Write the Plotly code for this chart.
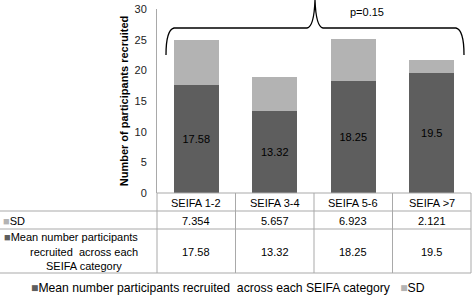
import plotly.graph_objects as go

categories = ["SEIFA 1-2", "SEIFA 3-4", "SEIFA 5-6", "SEIFA >7"]
mean_vals = [17.58, 13.32, 18.25, 19.5]
sd_vals = [7.354, 5.657, 6.923, 2.121]
mean_labels = ["17.58", "13.32", "18.25", "19.5"]
sd_labels = ["7.354", "5.657", "6.923", "2.121"]
mean_name = "Mean number participants recruited  across each SEIFA category"
mean_row_lines = ["Mean number participants", "recruited  across each", "SEIFA category"]
sd_name = "SD"
p_text = "p=0.15"

DARK = "#5e5e5e"
LIGHT = "#b3b3b3"
GRID = "#a9a9a9"
FONT = "Liberation Sans, Arial, sans-serif"

W, H = 473, 295
L, R, T, B = 157, 2, 9, 102
PW, PH = W - L - R, H - T - B


def px(x):
    return (x - L) / PW


def py(y):
    return (H - B - y) / PH


n = len(categories)


def cat_x(i):
    return (i + 0.5) / n


fig = go.Figure()
fig.add_trace(go.Bar(
    x=categories, y=mean_vals, name=mean_name, marker=dict(color=DARK, line=dict(width=0)),
    text=mean_labels, textposition="inside", insidetextanchor="middle",
    textfont=dict(color="black", size=11, family=FONT), textangle=0,
))
fig.add_trace(go.Bar(
    x=categories, y=sd_vals, name=sd_name, marker=dict(color=LIGHT, line=dict(width=0)),
    hoverinfo="skip",
))

shapes = []
annotations = []

row_top = 193
row_sd = 211
row_mean = 229
row_bot = 273
left_edge = 0

for y, x0 in [(row_top, L), (row_sd, left_edge), (row_mean, left_edge), (row_bot, left_edge)]:
    shapes.append(dict(type="line", xref="paper", yref="paper", x0=px(x0), x1=1,
                       y0=py(y), y1=py(y), line=dict(color=GRID, width=1), layer="above"))
for i in range(n + 1):
    xb = cat_x(i - 0.5)
    shapes.append(dict(type="line", xref="paper", yref="paper", x0=xb, x1=xb,
                       y0=py(row_top), y1=py(row_bot), line=dict(color=GRID, width=1), layer="above"))


def ann(x, y, text, **kw):
    d = dict(xref="paper", yref="paper", x=x, y=y, text=text, showarrow=False,
             xanchor="center", yanchor="middle", font=dict(size=11, family=FONT, color="black"))
    d.update(kw)
    annotations.append(d)


for i, c in enumerate(categories):
    ann(cat_x(i), py((row_top + row_sd) / 2 + 1), c)
    ann(cat_x(i), py((row_sd + row_mean) / 2 + 1), sd_labels[i])
    ann(cat_x(i), py((row_mean + row_bot) / 2 + 1), mean_labels[i])

ann(px(1), py((row_sd + row_mean) / 2 + 1), f"<span style='color:{LIGHT}'>■</span>{sd_name}", xanchor="left")
line_y = [237, 251.5, 265.5]
for k, (txt, yy) in enumerate(zip(mean_row_lines, line_y)):
    t = txt.replace("  ", "&nbsp; ")
    if k == 0:
        t = f"<span style='color:{DARK}'>■</span>" + t
        ann(px(2), py(yy), t, xanchor="left")
    else:
        ann(px(84), py(yy), t)

# legend (drawn as text to match the small square markers)
leg = (f"<span style='color:{DARK}'>■</span>" + mean_name.replace("  ", "&nbsp; ")
       + "&nbsp;&nbsp;&nbsp;" + f"<span style='color:{LIGHT}'>■</span>" + sd_name)
ann(px(29), py(288), leg, xanchor="left", font=dict(size=12.2, family=FONT, color="black"))

pts = [(166, 55), (166, 30), (174, 28), (307, 28), (314, 27), (315, 0), (316, 27), (323, 28),
       (456, 28), (464, 30), (464, 55)]
P = [(px(a), py(b)) for a, b in pts]
path = (f"M{P[0][0]},{P[0][1]} Q{P[1][0]},{P[1][1]} {P[2][0]},{P[2][1]} "
        f"L{P[3][0]},{P[3][1]} Q{P[4][0]},{P[4][1]} {P[5][0]},{P[5][1]} "
        f"Q{P[6][0]},{P[6][1]} {P[7][0]},{P[7][1]} L{P[8][0]},{P[8][1]} "
        f"Q{P[9][0]},{P[9][1]} {P[10][0]},{P[10][1]}")
shapes.append(dict(type="path", xref="paper", yref="paper", path=path,
                   line=dict(color="black", width=1.3)))
ann(px(367), py(12), p_text)

fig.update_layout(
    width=W, height=H, margin=dict(l=L, r=R, t=T, b=B, autoexpand=False),
    barmode="stack", bargap=0.43,
    plot_bgcolor="white", paper_bgcolor="white",
    font=dict(family=FONT, size=11, color="black"),
    shapes=shapes, annotations=annotations,
    showlegend=False,
    xaxis=dict(showticklabels=False, showline=False, ticks="", showgrid=False, zeroline=False,
               range=[-0.5, n - 0.5], fixedrange=True),
    yaxis=dict(range=[0, 30], dtick=5, showgrid=False, zeroline=False, showline=True,
               linecolor=GRID, linewidth=1, ticks="", ticklen=0, ticklabelstandoff=7,
               tickfont=dict(size=11, family=FONT, color="#222"),
               title=dict(text="<b>Number of participants recruited</b>", font=dict(size=11, family=FONT),
                          standoff=3)),
)

fig.write_html("out.html", config={"displayModeBar": False},
               post_script="document.body.style.margin='0';")
